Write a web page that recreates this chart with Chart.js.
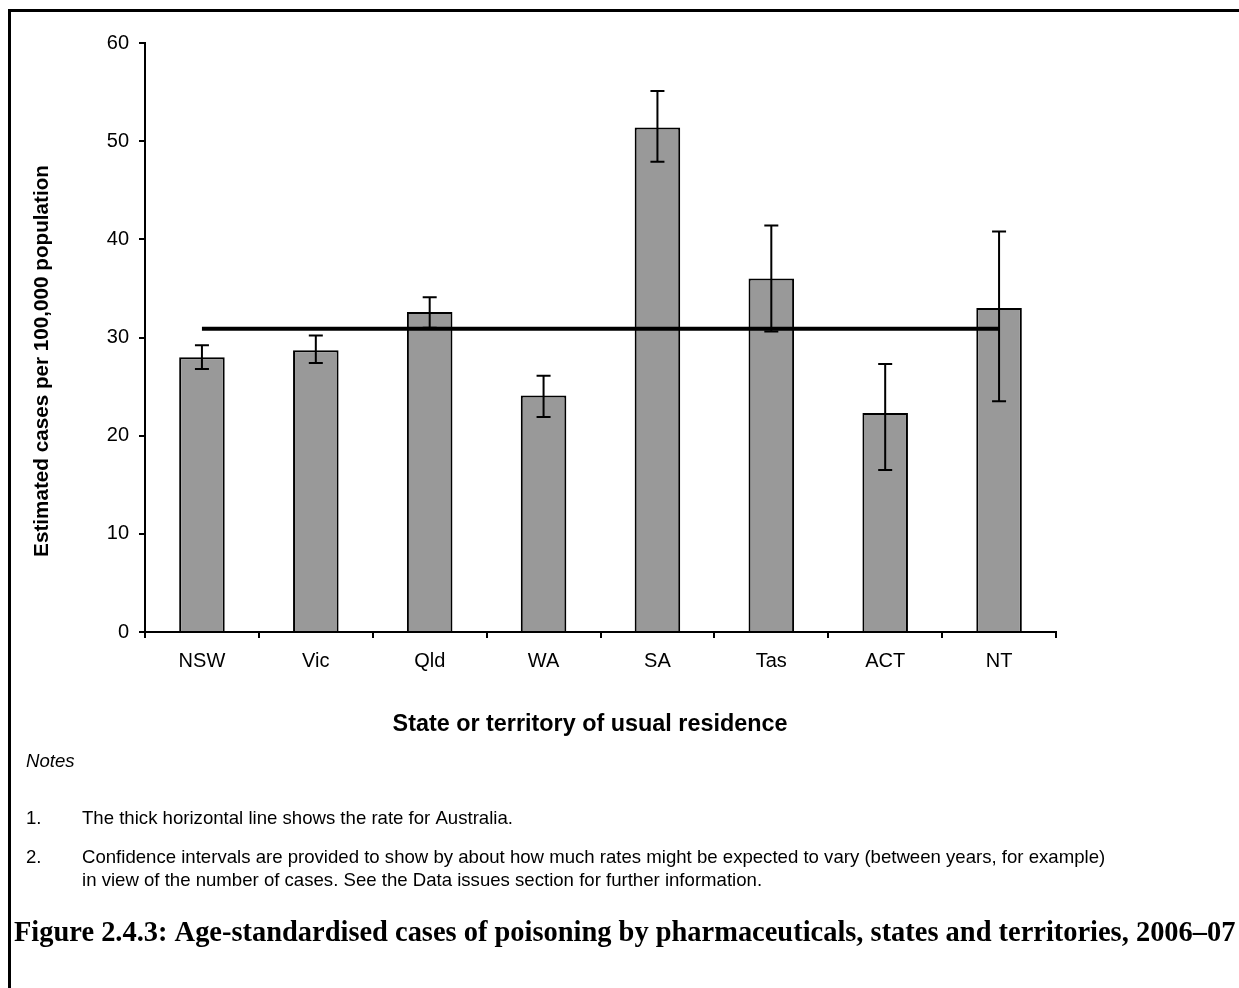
<!DOCTYPE html>
<html>
<head>
<meta charset="utf-8">
<script src="https://cdn.jsdelivr.net/npm/chart.js@4/dist/chart.umd.min.js"></script>
<style>
  html, body { margin: 0; padding: 0; background: #fff; }
  #wrap { position: relative; width: 1239px; height: 988px; overflow: hidden; background: #fff; }
  canvas { display: block; }
</style>
</head>
<body>
<div id="wrap"><canvas id="c" width="1239" height="988"></canvas></div>
<script>
// Age-standardised rates of poisoning by pharmaceuticals, 2006–07
const states = ['NSW', 'Vic', 'Qld', 'WA', 'SA', 'Tas', 'ACT', 'NT'];
const rates = [28.0, 28.7, 32.6, 24.1, 51.4, 36.0, 22.3, 33.0];
const ciLower = [26.8, 27.4, 31.0, 21.9, 47.9, 30.6, 16.5, 23.5];
const ciUpper = [29.2, 30.2, 34.1, 26.1, 55.1, 41.4, 27.3, 40.8];
const australiaRate = 30.9;
const yTicks = [0, 10, 20, 30, 40, 50, 60];

const yTitle = 'Estimated cases per 100,000 population';
const xTitle = 'State or territory of usual residence';
const notesHeading = 'Notes';
const notes = [
  ['1.', ['The thick horizontal line shows the rate for Australia.']],
  ['2.', ['Confidence intervals are provided to show by about how much rates might be expected to vary (between years, for example)',
          'in view of the number of cases. See the Data issues section for further information.']]
];
const caption = 'Figure 2.4.3: Age-standardised cases of poisoning by pharmaceuticals, states and territories, 2006\u201307';

const SANS = '"Liberation Sans", Arial, Helvetica, sans-serif';
const SERIF = '"Liberation Serif", "Times New Roman", serif';

Chart.defaults.font.family = SANS;
Chart.defaults.color = '#000';

// font size that makes a string span a given width
function fitSize(ctx, text, style, weight, family, width) {
  ctx.font = `${style} ${weight} 100px ${family}`;
  return 100 * width / ctx.measureText(text).width;
}

// confidence-interval whiskers on each bar
const errorBars = {
  id: 'errorBars',
  afterDatasetsDraw(chart) {
    const { ctx, scales: { x, y } } = chart;
    ctx.save();
    ctx.strokeStyle = '#000';
    ctx.lineWidth = 2;
    states.forEach((s, i) => {
      const px = x.getPixelForValue(i);
      const top = y.getPixelForValue(ciUpper[i]);
      const bot = y.getPixelForValue(ciLower[i]);
      ctx.beginPath();
      ctx.moveTo(px, top); ctx.lineTo(px, bot);
      ctx.moveTo(px - 7, top); ctx.lineTo(px + 7, top);
      ctx.moveTo(px - 7, bot); ctx.lineTo(px + 7, bot);
      ctx.stroke();
    });
    ctx.restore();
  }
};

// frame, axis titles, notes and figure caption
const pageText = {
  id: 'pageText',
  afterDraw(chart) {
    const ctx = chart.ctx;
    ctx.save();
    ctx.strokeStyle = '#000';
    ctx.lineWidth = 3;
    ctx.beginPath();
    ctx.moveTo(9.5, 988); ctx.lineTo(9.5, 10.5); ctx.lineTo(1239, 10.5);
    ctx.stroke();

    ctx.fillStyle = '#000';
    ctx.textBaseline = 'middle';

    // y-axis title
    ctx.save();
    ctx.translate(42, 361);
    ctx.rotate(-Math.PI / 2);
    ctx.textAlign = 'center';
    const ys = fitSize(ctx, yTitle, 'normal', 'bold', SANS, 392);
    ctx.font = `bold ${ys}px ${SANS}`;
    ctx.fillText(yTitle, 0, 0);
    ctx.restore();

    // x-axis title
    ctx.textAlign = 'center';
    const xs = fitSize(ctx, xTitle, 'normal', 'bold', SANS, 395);
    ctx.font = `bold ${xs}px ${SANS}`;
    ctx.fillText(xTitle, 590, 725);

    // notes
    const ns = fitSize(ctx, notes[1][1][0], 'normal', 'normal', SANS, 1024);
    ctx.textAlign = 'left';
    ctx.font = `italic ${ns}px ${SANS}`;
    ctx.fillText(notesHeading, 26, 762);
    ctx.font = `normal ${ns}px ${SANS}`;
    const rows = [[819], [858, 881]];
    notes.forEach((n, i) => {
      ctx.fillText(n[0], 26, rows[i][0]);
      n[1].forEach((line, j) => ctx.fillText(line, 82, rows[i][j]));
    });

    // caption
    const cs = fitSize(ctx, caption, 'normal', 'bold', SERIF, 1222);
    ctx.font = `bold ${cs}px ${SERIF}`;
    ctx.fillText(caption, 14, 934);
    ctx.restore();
  }
};

const axisLine = { color: '#000', width: 2 };
const tickGrid = { drawOnChartArea: false, drawTicks: true, tickLength: 6, color: '#000', lineWidth: 2 };

new Chart(document.getElementById('c'), {
  data: {
    labels: states,
    datasets: [
      {
        type: 'line',
        label: 'Australia',
        data: states.map(() => australiaRate),
        borderColor: '#000',
        borderWidth: 4,
        pointRadius: 0,
        fill: false,
        order: 0
      },
      {
        type: 'bar',
        label: 'Rate',
        data: rates,
        backgroundColor: '#999999',
        borderColor: '#000',
        borderWidth: 2,
        barPercentage: 0.4,
        categoryPercentage: 1.0,
        order: 1
      }
    ]
  },
  options: {
    responsive: false,
    animation: false,
    layout: { padding: { left: 0, top: 43, right: 183, bottom: 256 } },
    plugins: { legend: { display: false }, tooltip: { enabled: false } },
    scales: {
      x: {
        type: 'category',
        offset: true,
        grid: Object.assign({ offset: true }, tickGrid),
        border: axisLine,
        ticks: { color: '#000', font: { size: 20 }, padding: 11, maxRotation: 0 },
        afterFit(s) { s.height = 100; }
      },
      y: {
        min: 0,
        max: 60,
        afterBuildTicks(s) { s.ticks = yTicks.map(v => ({ value: v })); },
        grid: tickGrid,
        border: axisLine,
        ticks: { color: '#000', font: { size: 20 }, padding: 10 },
        afterFit(s) { s.width = 145; }
      }
    }
  },
  plugins: [errorBars, pageText]
});
</script>
</body>
</html>
